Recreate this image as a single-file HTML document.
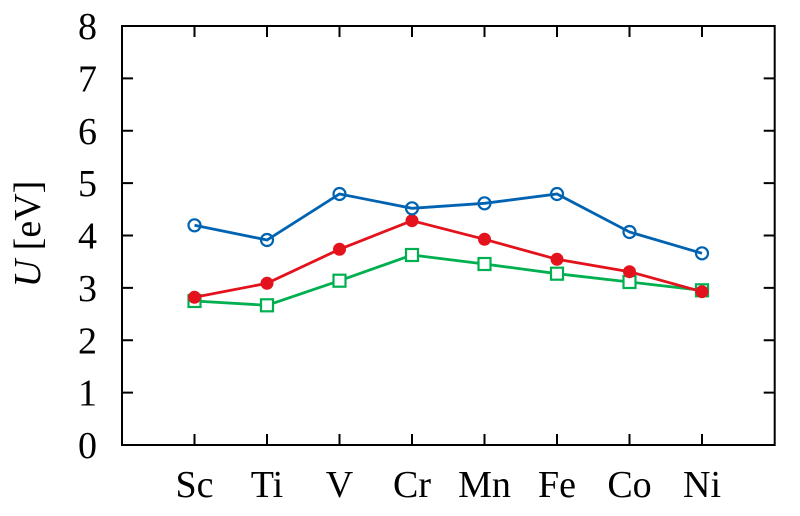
<!DOCTYPE html>
<html><head><meta charset="utf-8"><style>
html,body{margin:0;padding:0;background:#fff;}
svg{display:block;}
text{font-family:"Liberation Serif","DejaVu Serif",serif;fill:#000;}
</style></head><body>
<svg width="800" height="516" viewBox="0 0 800 516" xmlns="http://www.w3.org/2000/svg">
<rect width="800" height="516" fill="#fff"/>
<!-- ticks -->
<g stroke="#000" stroke-width="2" fill="none">
<path d="M122 392.6h11M122 340.3h11M122 287.9h11M122 235.5h11M122 183.1h11M122 130.8h11M122 78.4h11"/>
<path d="M774.7 392.6h-11M774.7 340.3h-11M774.7 287.9h-11M774.7 235.5h-11M774.7 183.1h-11M774.7 130.8h-11M774.7 78.4h-11"/>
<path d="M194.5 445v-11M267 445v-11M339.5 445v-11M412 445v-11M484.5 445v-11M557 445v-11M629.5 445v-11M702 445v-11"/>
<path d="M194.5 26v11M267 26v11M339.5 26v11M412 26v11M484.5 26v11M557 26v11M629.5 26v11M702 26v11"/>
<rect x="122" y="26" width="652.7" height="419"/>
</g>
<!-- y tick labels -->
<g font-size="38" text-anchor="end">
<text x="97" y="458">0</text>
<text x="97" y="405.6">1</text>
<text x="97" y="353.3">2</text>
<text x="97" y="300.9">3</text>
<text x="97" y="248.5">4</text>
<text x="97" y="196.1">5</text>
<text x="97" y="143.8">6</text>
<text x="97" y="91.4">7</text>
<text x="97" y="39">8</text>
</g>
<!-- x tick labels -->
<g font-size="38" text-anchor="middle">
<text x="194.5" y="497">Sc</text>
<text x="267" y="497">Ti</text>
<text x="339.5" y="497">V</text>
<text x="412" y="497">Cr</text>
<text x="484.5" y="497">Mn</text>
<text x="557" y="497">Fe</text>
<text x="629.5" y="497">Co</text>
<text x="702" y="497">Ni</text>
</g>
<!-- y axis label -->
<text font-size="38" transform="translate(40,234) rotate(-90)" text-anchor="middle"><tspan font-style="italic">U</tspan> [eV]</text>

<!-- green series -->
<g stroke="#00b050" stroke-width="2.8" fill="none">
<polyline points="194.5,301 267,305.3 339.5,280.7 412,255 484.5,264 557,273.7 629.5,282 702,290.3"/>
<g fill="#fff" stroke-width="2.2">
<rect x="188.5" y="295" width="12" height="12"/>
<rect x="261" y="299.3" width="12" height="12"/>
<rect x="333.5" y="274.7" width="12" height="12"/>
<rect x="406" y="249" width="12" height="12"/>
<rect x="478.5" y="258" width="12" height="12"/>
<rect x="551" y="267.7" width="12" height="12"/>
<rect x="623.5" y="276" width="12" height="12"/>
<rect x="696" y="284.3" width="12" height="12"/>
</g>
</g>
<!-- red series -->
<g stroke="#e3121c" stroke-width="2.8" fill="none">
<polyline points="194.5,297.3 267,283.3 339.5,249.3 412,220.7 484.5,239.3 557,259.3 629.5,271.7 702,291.7"/>
<g fill="#e3121c" stroke="none">
<circle cx="194.5" cy="297.3" r="6.5"/>
<circle cx="267" cy="283.3" r="6.5"/>
<circle cx="339.5" cy="249.3" r="6.5"/>
<circle cx="412" cy="220.7" r="6.5"/>
<circle cx="484.5" cy="239.3" r="6.5"/>
<circle cx="557" cy="259.3" r="6.5"/>
<circle cx="629.5" cy="271.7" r="6.5"/>
<circle cx="702" cy="291.7" r="6.5"/>
</g>
</g>
<!-- blue series -->
<g stroke="#0063b2" stroke-width="2.8" fill="none">
<polyline points="194.5,225.3 267,240 339.5,194 412,208.3 484.5,203.3 557,194 629.5,232 702,253.3"/>
<g stroke-width="2.2">
<circle cx="194.5" cy="225.3" r="6"/>
<circle cx="267" cy="240" r="6"/>
<circle cx="339.5" cy="194" r="6"/>
<circle cx="412" cy="208.3" r="6"/>
<circle cx="484.5" cy="203.3" r="6"/>
<circle cx="557" cy="194" r="6"/>
<circle cx="629.5" cy="232" r="6"/>
<circle cx="702" cy="253.3" r="6"/>
</g>
</g>
</svg>
</body></html>
